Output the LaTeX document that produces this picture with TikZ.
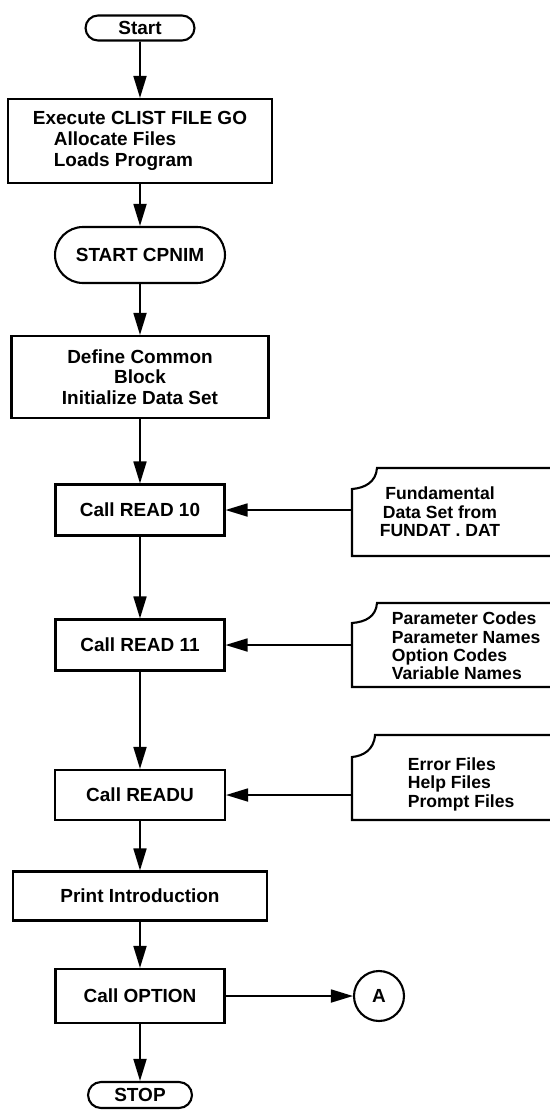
\documentclass[tikz,border=0pt]{standalone}
\usepackage{fontspec}
\setmainfont{Liberation Sans}
\usetikzlibrary{arrows.meta,shapes}

\begin{document}
\begin{tikzpicture}[x=0.02cm, y=-0.02cm, line width=1.2pt,
		font=\fontsize{10.8}{11.8}\selectfont\bfseries,
		box/.style={draw, rectangle, inner sep=2pt},
		term/.style={draw, rounded rectangle, inner sep=2pt},
		datatext/.style={font=\fontsize{10}{10.5}\selectfont\bfseries, align=left},
		flow/.style={line width=1pt, -{Triangle[length=0.44cm,width=0.26cm]}}]
		\useasboundingbox (0,0) rectangle (549,1113);
		% main column
		\node[term, minimum width=2.32cm, minimum height=0.5cm] (start) at (140,28) {Start};
		\node[box, minimum width=5.28cm, minimum height=1.68cm, align=left] (exec) at (140,141)
			{Execute CLIST FILE GO\\\hspace*{1.1em}Allocate Files\\\hspace*{1.1em}Loads Program};
		\node[term, minimum width=3.54cm, minimum height=1.12cm] (cpnim) at (140,255) {START CPNIM};
		\node[box, minimum width=5.14cm, minimum height=1.64cm, align=center] (define) at (140,377)
			{Define Common\\Block\\Initialize Data Set};
		\node[box, minimum width=3.38cm, minimum height=1.02cm] (read10) at (140,510) {Call READ 10};
		\node[box, minimum width=3.38cm, minimum height=1.02cm] (read11) at (140,645) {Call READ 11};
		\node[box, minimum width=3.4cm, minimum height=1.0cm] (readu) at (140,795) {Call READU};
		\node[box, minimum width=5.08cm, minimum height=0.98cm] (intro) at (140,896) {Print Introduction};
		\node[box, minimum width=3.38cm, minimum height=1.08cm] (option) at (140,996) {Call OPTION};
		\node[term, minimum width=2.22cm, minimum height=0.52cm] (stop) at (140,1095) {STOP};
		% connector
		\node[draw, circle, minimum size=1.0cm, inner sep=0pt] (conA) at (379,996) {A};
		% data sets
		\draw (552,468) -- (377,468) .. controls (376,482) and (365,488) .. (352,489) -- (352,556) -- (552,556);
		\node[datatext, align=center] (fundat) at (440,512) {Fundamental\\Data Set from\\FUNDAT . DAT};
		\coordinate (fundin) at (352,510);
		\draw (552,603) -- (377,603) .. controls (376,617) and (365,622) .. (352,623) -- (352,687) -- (552,687);
		\node[datatext, anchor=west] (params) at (385,646) {Parameter Codes\\Parameter Names\\Option Codes\\Variable Names};
		\coordinate (paramin) at (352,645);
		\draw (552,735) -- (375,735) .. controls (374,750) and (363,756) .. (352,757) -- (352,820) -- (552,820);
		\node[datatext, anchor=west] (files) at (401,784) {Error Files\\Help Files\\Prompt Files};
		\coordinate (filesin) at (352,795);
		% flow
		\draw[flow] (start) -- (exec);
		\draw[flow] (exec) -- (cpnim);
		\draw[flow] (cpnim) -- (define);
		\draw[flow] (define) -- (read10);
		\draw[flow] (read10) -- (read11);
		\draw[flow] (read11) -- (readu);
		\draw[flow] (readu) -- (intro);
		\draw[flow] (intro) -- (option);
		\draw[flow] (option) -- (stop);
		\draw[flow] (option) -- (conA);
		\draw[flow] (fundin) -- (fundin -| read10.east);
		\draw[flow] (paramin) -- (paramin -| read11.east);
		\draw[flow] (filesin) -- (filesin -| readu.east);
	\end{tikzpicture}
\end{document}
